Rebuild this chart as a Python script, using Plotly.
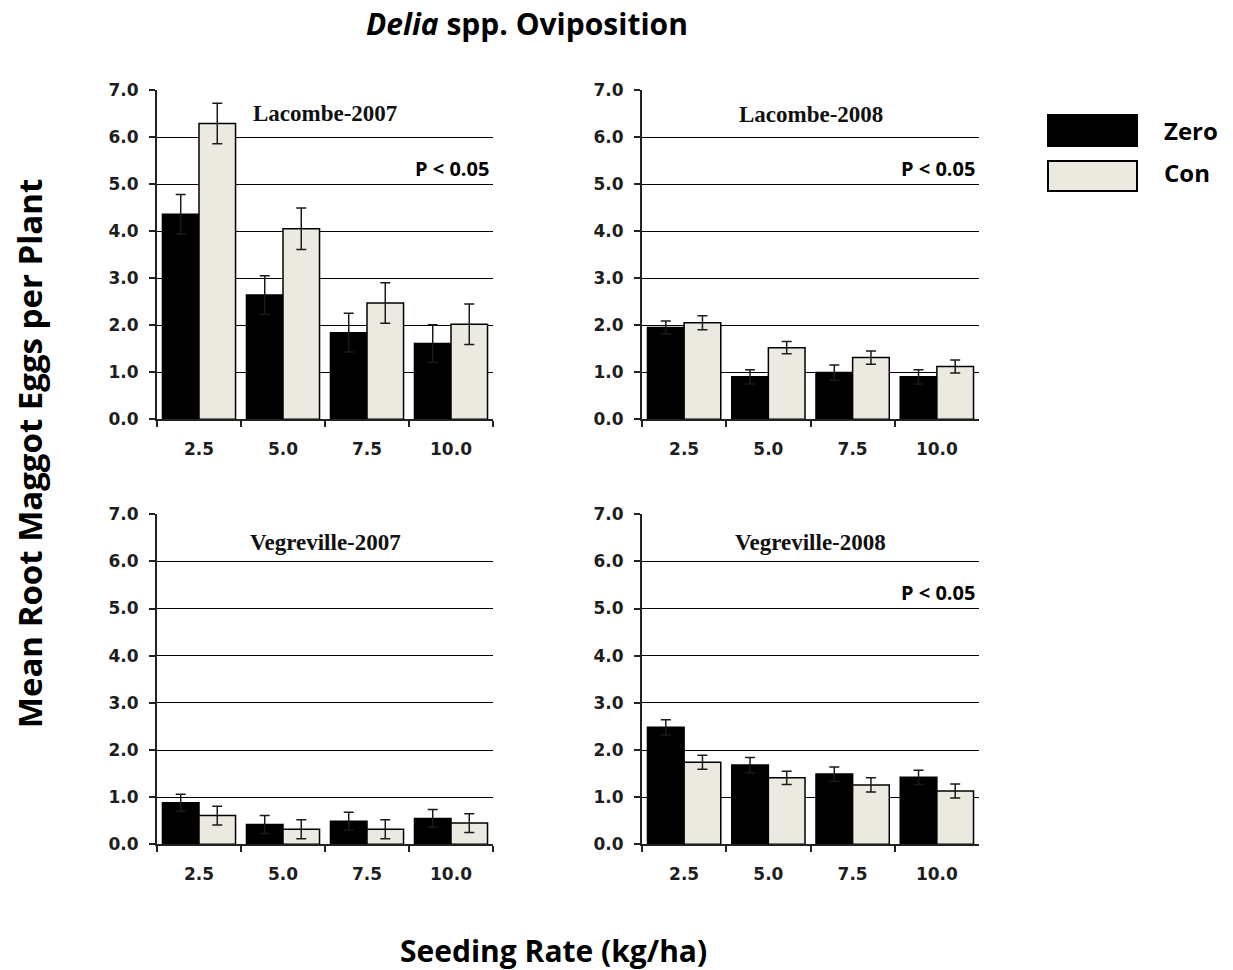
import plotly.graph_objects as go

# Seeding rates (kg/ha)
rates = ["2.5", "5.0", "7.5", "10.0"]

# Mean root maggot eggs per plant, with standard errors
lac07_zero = [4.36, 2.64, 1.84, 1.61]
lac07_zero_err = [0.42, 0.41, 0.41, 0.40]
lac07_con = [6.29, 4.05, 2.47, 2.02]
lac07_con_err = [0.43, 0.44, 0.43, 0.43]

lac08_zero = [1.95, 0.90, 0.99, 0.90]
lac08_zero_err = [0.14, 0.15, 0.16, 0.15]
lac08_con = [2.05, 1.52, 1.31, 1.12]
lac08_con_err = [0.15, 0.13, 0.14, 0.14]

veg07_zero = [0.88, 0.42, 0.49, 0.55]
veg07_zero_err = [0.18, 0.19, 0.19, 0.19]
veg07_con = [0.61, 0.32, 0.32, 0.45]
veg07_con_err = [0.20, 0.20, 0.20, 0.20]

veg08_zero = [2.48, 1.68, 1.49, 1.42]
veg08_zero_err = [0.16, 0.16, 0.15, 0.15]
veg08_con = [1.74, 1.41, 1.26, 1.13]
veg08_con_err = [0.15, 0.14, 0.15, 0.15]

panel_titles = ["Lacombe-2007", "Lacombe-2008", "Vegreville-2007", "Vegreville-2008"]
panel_sig = ["P < 0.05", "P < 0.05", "", "P < 0.05"]
y_ticks = [0, 1, 2, 3, 4, 5, 6, 7]

W, H = 1233, 970
ZERO_COLOR = "#000000"
CON_COLOR = "#ECEAE0"


def py(pix):
    """Paper y for a pixel row measured from the top of the page."""
    return 1 - ((pix - 10) / 0.979) / H


panels = [
    (lac07_zero, lac07_zero_err, lac07_con, lac07_con_err),
    (lac08_zero, lac08_zero_err, lac08_con, lac08_con_err),
    (veg07_zero, veg07_zero_err, veg07_con, veg07_con_err),
    (veg08_zero, veg08_zero_err, veg08_con, veg08_con_err),
]

# plot-area pixel boxes (left, right, top, bottom)
boxes = [
    (157, 493, 90, 419),
    (642, 979, 90, 419),
    (157, 493, 514, 844),
    (642, 979, 514, 844),
]
title_y = [6.51, 6.47, 6.41, 6.41]

fig = go.Figure()
tick_font = dict(family="DejaVu Sans", size=17, color="#1e1e1e", weight="bold")
sans = "Open Sans"

for i, ((z, ze, c, ce), (l, r, t, b)) in enumerate(zip(panels, boxes)):
    n = "" if i == 0 else str(i + 1)
    xa, ya = "x" + n, "y" + n
    fig.add_trace(go.Bar(
        x=rates, y=z, name="Zero", xaxis=xa, yaxis=ya,
        marker=dict(color=ZERO_COLOR, line=dict(color="#000000", width=1.5)),
        error_y=dict(type="data", array=ze, color="#1a1a1a", thickness=1.5, width=5),
        showlegend=False,
    ))
    fig.add_trace(go.Bar(
        x=rates, y=c, name="Con", xaxis=xa, yaxis=ya,
        marker=dict(color=CON_COLOR, line=dict(color="#000000", width=1.5)),
        error_y=dict(type="data", array=ce, color="#1a1a1a", thickness=1.5, width=5),
        showlegend=False,
    ))
    xkey = "xaxis" + n
    ykey = "yaxis" + n
    fig.update_layout(**{
        xkey: dict(
            domain=[l / W, r / W], anchor=ya, type="category",
            showline=True, linecolor="#222", linewidth=2,
            ticks="outside", tickson="boundaries", ticklen=6, tickwidth=1.5, tickcolor="#222",
            tickfont=tick_font, ticklabelstandoff=13, showgrid=False,
        ),
        ykey: dict(
            domain=[py(b), py(t)], anchor=xa, range=[0, 7],
            tickvals=y_ticks, tickformat=".1f",
            showline=True, linecolor="#222", linewidth=2,
            ticks="outside", ticklen=6, tickwidth=1.5, tickcolor="#222",
            showgrid=True, gridcolor="#000000", gridwidth=1.3, zeroline=False,
            tickfont=tick_font, ticklabelstandoff=7,
        ),
    })
    fig.add_annotation(
        text="<b>" + panel_titles[i] + "</b>", xref=xa + " domain", yref=ya,
        x=0.5, y=title_y[i], xanchor="center", yanchor="middle", showarrow=False,
        font=dict(family="Liberation Serif", size=23, color="#111"),
    )
    if panel_sig[i]:
        fig.add_annotation(
            text="<b>" + panel_sig[i] + "</b>", xref=xa + " domain", yref=ya,
            x=0.995, y=5.34, xanchor="right", yanchor="middle", showarrow=False,
            font=dict(family=sans, size=20, color="#000"),
        )

# legend swatches and labels
legend_items = [("Zero", ZERO_COLOR, 115, 146, 130), ("Con", CON_COLOR, 161, 191, 172)]
for label, color, y0, y1, yt in legend_items:
    fig.add_shape(type="rect", xref="paper", yref="paper",
                  x0=1048 / W, x1=1137 / W, y0=py(y1), y1=py(y0),
                  fillcolor=color, line=dict(color="#000", width=2))
    fig.add_annotation(text="<b>" + label + "</b>", xref="paper", yref="paper",
                       x=1162 / W, y=py(yt), xanchor="left", yanchor="middle",
                       showarrow=False, font=dict(family=sans, size=24, color="#000"))

# figure titles
fig.add_annotation(text="<b><i>Delia</i> spp. Oviposition</b>", xref="paper", yref="paper",
                   x=527 / W, y=py(23.5), xanchor="center", yanchor="middle", showarrow=False,
                   font=dict(family=sans, size=30, color="#000"))
fig.add_annotation(text="<b>Mean Root Maggot Eggs per Plant</b>", xref="paper", yref="paper",
                   x=29 / W, y=py(454), xanchor="center", yanchor="middle",
                   textangle=-90, showarrow=False,
                   font=dict(family=sans, size=33, color="#000"))
fig.add_annotation(text="<b>Seeding Rate (kg/ha)</b>", xref="paper", yref="paper",
                   x=553 / W, y=py(950.5), xanchor="center", yanchor="middle", showarrow=False,
                   font=dict(family=sans, size=30, color="#000"))

fig.update_layout(
    width=W, height=H, margin=dict(l=0, r=0, t=0, b=0),
    barmode="group", bargap=0.13, bargroupgap=0,
    paper_bgcolor="white", plot_bgcolor="white",
    showlegend=False,
)

fig.write_html("out.html")
